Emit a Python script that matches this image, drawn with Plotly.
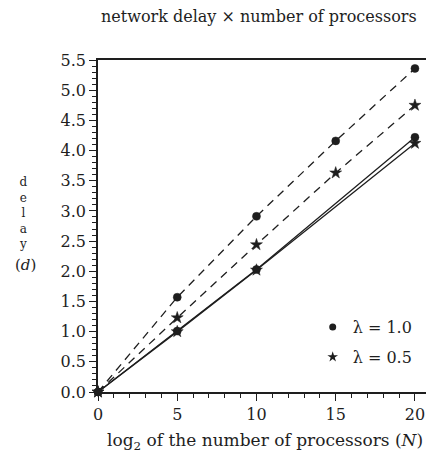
import plotly.graph_objects as go

# ---- data ----
x_dashed = [0, 5, 10, 15, 20]
dashed_l10 = [0.0, 1.57, 2.91, 4.16, 5.36]
dashed_l05 = [0.0, 1.23, 2.44, 3.63, 4.75]
x_solid = [0, 5, 10, 20]
solid_l10 = [0.0, 1.01, 2.03, 4.22]
solid_l05 = [0.0, 1.00, 2.02, 4.12]
legend_labels = ["λ = 1.0", "λ = 0.5"]
y_ticks = [0.0, 0.5, 1.0, 1.5, 2.0, 2.5, 3.0, 3.5, 4.0, 4.5, 5.0, 5.5]
x_ticks = [0, 5, 10, 15, 20]

INK = "#1e1e1e"
FONT = "DejaVu Serif"

fig = go.Figure()

def add(xs, ys, dash, symbol, size):
    fig.add_trace(go.Scatter(
        x=xs, y=ys, mode="lines+markers", showlegend=False, cliponaxis=False,
        line=dict(color=INK, width=1.3, dash=dash),
        marker=dict(symbol=symbol, size=size, color=INK, line=dict(width=0.5, color=INK)),
    ))

add(x_dashed, dashed_l10, "8px,6px", "circle", 8)
add(x_dashed, dashed_l05, "8px,6px", "star", 9)
add(x_solid, solid_l10, "solid", "circle", 8)
add(x_solid, solid_l05, "solid", "star", 9)

# legend-only entries
fig.add_trace(go.Scatter(x=[None], y=[None], mode="markers", name=legend_labels[0],
                         marker=dict(symbol="circle", size=7, color=INK), legend="legend"))
fig.add_trace(go.Scatter(x=[None], y=[None], mode="markers", name=legend_labels[1],
                         marker=dict(symbol="star", size=8, color=INK), legend="legend2"))

# page body has an 8px margin: figure origin sits at (8, 8) of the screenshot
OFF = 8
W, H = 434 - OFF, 461 - OFF
L, T = 98 - OFF, 60 - OFF
R = W - (432 - OFF)
B = H - (392 - OFF)
pw, ph = W - L - R, H - T - B

def px(xs):  # screenshot x -> paper
    return (xs - OFF - L) / pw

def py(ys):  # screenshot y -> paper
    return (392 - ys) / ph

axis_common = dict(
    showline=True, linecolor=INK, linewidth=1.5, mirror=True,
    ticks="outside", ticklen=7, tickwidth=1.2, tickcolor=INK,
    showgrid=False, zeroline=False,
    tickfont=dict(family=FONT, size=16, color=INK),
)

fig.update_xaxes(range=[0, 20.95], tickvals=x_ticks, ticktext=[str(v) for v in x_ticks],
                 minor=dict(dtick=1, ticks="outside", ticklen=4, tickcolor=INK, tickwidth=1),
                 **axis_common)
fig.update_yaxes(range=[0, 5.5], tickvals=y_ticks, ticktext=[f"{v:.1f}" for v in y_ticks],
                 minor=dict(dtick=0.1, ticks="outside", ticklen=4, tickcolor=INK, tickwidth=1),
                 **axis_common)

legend_style = dict(font=dict(family=FONT, size=16, color=INK), bgcolor="rgba(0,0,0,0)",
                    xanchor="left", yanchor="middle", itemwidth=30)
fig.update_layout(
    width=W, height=H,
    margin=dict(l=L, r=R, t=T, b=B),
    paper_bgcolor="white", plot_bgcolor="white",
    legend=dict(x=px(314), y=py(327), **legend_style),
    legend2=dict(x=px(314), y=py(357), **legend_style),
)

ann = [
    dict(text="network delay × number of processors", x=px(260), y=py(17),
         font=dict(family=FONT, size=16, color=INK)),
    dict(text="log<sub>2</sub> of the number of processors (<i>N</i>)", x=px(266), y=py(441),
         font=dict(family=FONT, size=17, color=INK)),
    dict(text="d<br>e<br>l<br>a<br>y", x=px(23), y=py(213),
         font=dict(family=FONT, size=12, color=INK)),
    dict(text="(<i>d</i>)", x=px(25), y=py(265), font=dict(family=FONT, size=15, color=INK)),
]

for a in ann:
    a.update(xref="paper", yref="paper", showarrow=False, xanchor="center", yanchor="middle")
fig.update_layout(annotations=ann)

fig.write_html("out.html")
